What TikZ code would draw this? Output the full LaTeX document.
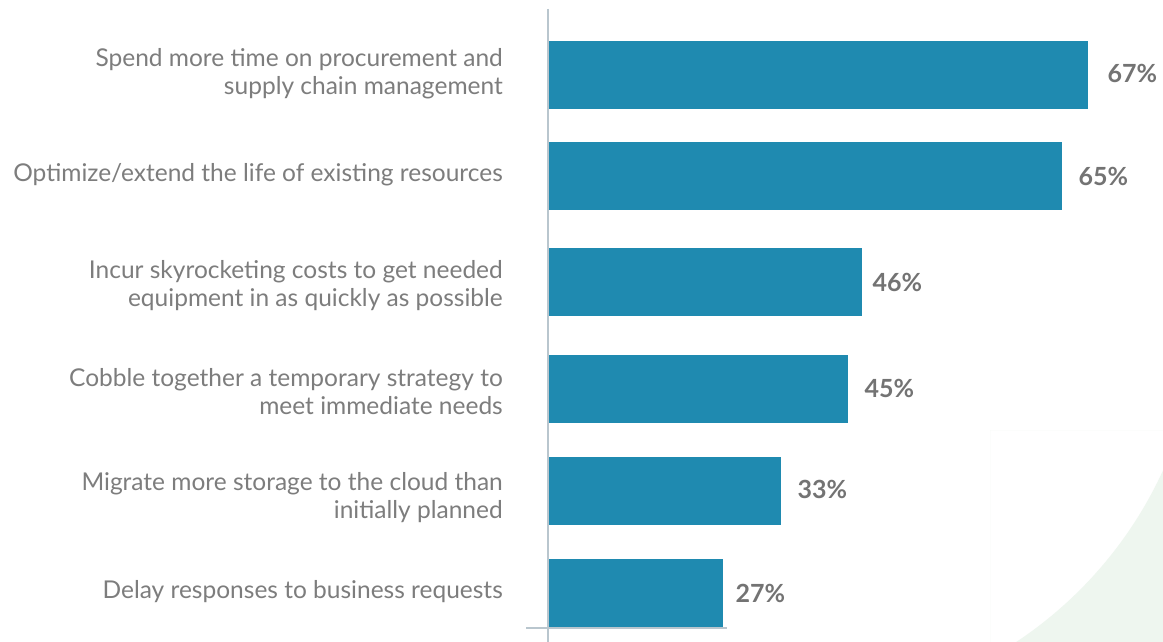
\documentclass[tikz,border=0pt]{standalone}
\usepackage{fontspec}
\setmainfont{Lato}
\definecolor{barblue}{HTML}{1F8AB0}
\definecolor{txtgray}{HTML}{7D7D7D}
\definecolor{pctgray}{HTML}{737373}
\definecolor{axisgray}{HTML}{B9C6CE}
\definecolor{bggreen}{HTML}{EEF6EF}
\tikzset{
  barbox/.style={fill=barblue, inner sep=0pt, anchor=west, minimum height=68pt},
  lab/.style={anchor=east, align=right, text=txtgray, inner sep=0pt, font=\fontsize{24.5}{28}\selectfont},
  pct/.style={anchor=west, text=pctgray, inner sep=0pt, font=\fontsize{25}{28}\bfseries\selectfont},
  axisline/.style={draw=axisgray, line width=2.5pt}
}
\begin{document}
\begin{tikzpicture}[x=1pt,y=-1pt]
\useasboundingbox (0,0) rectangle (1163,642);
\fill[white] (0,0) rectangle (1163,642);
\begin{scope}
  \clip (990,430) rectangle (1163,642);
  \fill[bggreen, even odd rule] (990,430) rectangle (1163,642) (790,300) circle[radius=410];
\end{scope}
% axis
\coordinate (atop) at (548,9);
\coordinate (abot) at (548,642);
\coordinate (bl) at (526,628);
\coordinate (br) at (727,628);
% bars
\node[barbox, minimum width=540pt] (b1) at (548,75) {};
\node[barbox, minimum width=514pt] (b2) at (548,176) {};
\node[barbox, minimum width=314pt] (b3) at (548,282) {};
\node[barbox, minimum width=300pt] (b4) at (548,389) {};
\node[barbox, minimum width=233pt] (b5) at (548,491) {};
\node[barbox, minimum width=175pt] (b6) at (548,593) {};
\draw[axisline] (atop) -- (abot);
\draw[axisline] (bl) -- (br);
% labels
\node[lab] (l1) at (503,73.5) {Spend more time on procurement and\\supply chain management};
\node[lab] (l2) at (503,175) {Optimize/extend the life of existing resources};
\node[lab] (l3) at (503,285.5) {Incur skyrocketing costs to get needed\\equipment in as quickly as possible};
\node[lab] (l4) at (503,391.5) {Cobble together a temporary strategy to\\meet immediate needs};
\node[lab] (l5) at (503,497.5) {Migrate more storage to the cloud than\\initially planned};
\node[lab] (l6) at (503,592) {Delay responses to business requests};
% percentages
\node[pct] (p1) at ([xshift=19pt,yshift=1.5pt]b1.east) {67\%};
\node[pct] (p2) at ([xshift=16pt]b2.east) {65\%};
\node[pct] (p3) at ([xshift=10pt]b3.east) {46\%};
\node[pct] (p4) at ([xshift=16pt,yshift=1pt]b4.east) {45\%};
\node[pct] (p5) at ([xshift=16pt,yshift=1.5pt]b5.east) {33\%};
\node[pct] (p6) at ([xshift=12pt]b6.east) {27\%};
\end{tikzpicture}
\end{document}
